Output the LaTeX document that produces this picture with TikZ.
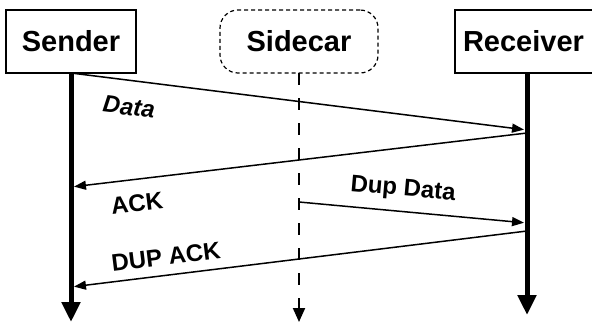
\documentclass[tikz,border=0pt]{standalone}
\usepackage{fontspec}
\setmainfont{Liberation Sans}
\usetikzlibrary{arrows.meta, positioning}
\tikzset {
  party/.style = {draw, line width=1.2pt, rectangle, minimum height=63pt, inner sep=0pt, outer sep=0pt, font=\fontsize{29}{30}\selectfont\bfseries},
  proxy/.style = {party, dash pattern=on 4pt off 3pt, rounded corners=18pt},
  lifeline/.style = {line width=5pt, -{Triangle[length=20pt, width=18pt]}},
  sidelife/.style = {line width=2pt, dash pattern=on 12pt off 13pt, -{Triangle[length=14pt, width=12pt]}},
  msg/.style = {line width=1.5pt, shorten >=3pt, -{Triangle[length=12pt, width=9pt]}},
  msglabel/.style = {inner sep=0pt, font=\fontsize{24}{24}\selectfont\bfseries}
}

\begin{document}
\begin{tikzpicture}[x=1pt, y=-1pt]
    \useasboundingbox (0,0) rectangle (593,322);

    \node[party, minimum width=130pt] (sender) at (71,41.5) {Sender};
    \node[proxy, minimum width=158pt, right=84pt of sender] (sidecar) {Sidecar};
    % receiver box runs off the right edge, so it is left open there
    \node[party, draw=none, text width=122pt, inner xsep=8pt, align=left, right=77pt of sidecar] (receiver) {Receiver};
    \draw[line width=1.2pt] ([xshift=-1.5pt]receiver.north east) -- (receiver.north west) -- (receiver.south west) -- ([xshift=-1.5pt]receiver.south east);

    % lifelines
    \coordinate (bottom) at (0,322);
    \coordinate (rtop) at ([xshift=72pt]receiver.south west);
    \coordinate (rbottom) at ([yshift=-242pt]rtop);
    \draw[lifeline] (sender.south) -- (sender |- bottom);
    \draw[sidelife] (sidecar.south) -- (sidecar |- bottom);
    \draw[lifeline] (rtop) -- (rbottom);

    % points where messages leave / arrive
    \coordinate (r-data) at (527,130);
    \coordinate (r-ack) at (527,133);
    \coordinate (s-ack) at (71,187);
    \coordinate (c-dup) at (299,202);
    \coordinate (r-dup) at (527,223);
    \coordinate (r-dupack) at (527,231);
    \coordinate (s-dupack) at (71,287);

    \draw[msg] (sender.south) -- (r-data);
    \draw[msg] (r-ack) -- (s-ack);
    \draw[msg] (c-dup) -- (r-dup);
    \draw[msg] (r-dupack) -- (s-dupack);

    \node[msglabel, rotate=-7] (data-lbl) at (129,107) {\itshape Data};
    \node[msglabel, rotate=7] (ack-lbl) at (137,203) {ACK};
    \node[msglabel, rotate=-5] (dup-lbl) at (403,190) {Dup Data};
    \node[msglabel, rotate=7] (dupack-lbl) at (166,257) {DUP ACK};

\end{tikzpicture}
\end{document}
